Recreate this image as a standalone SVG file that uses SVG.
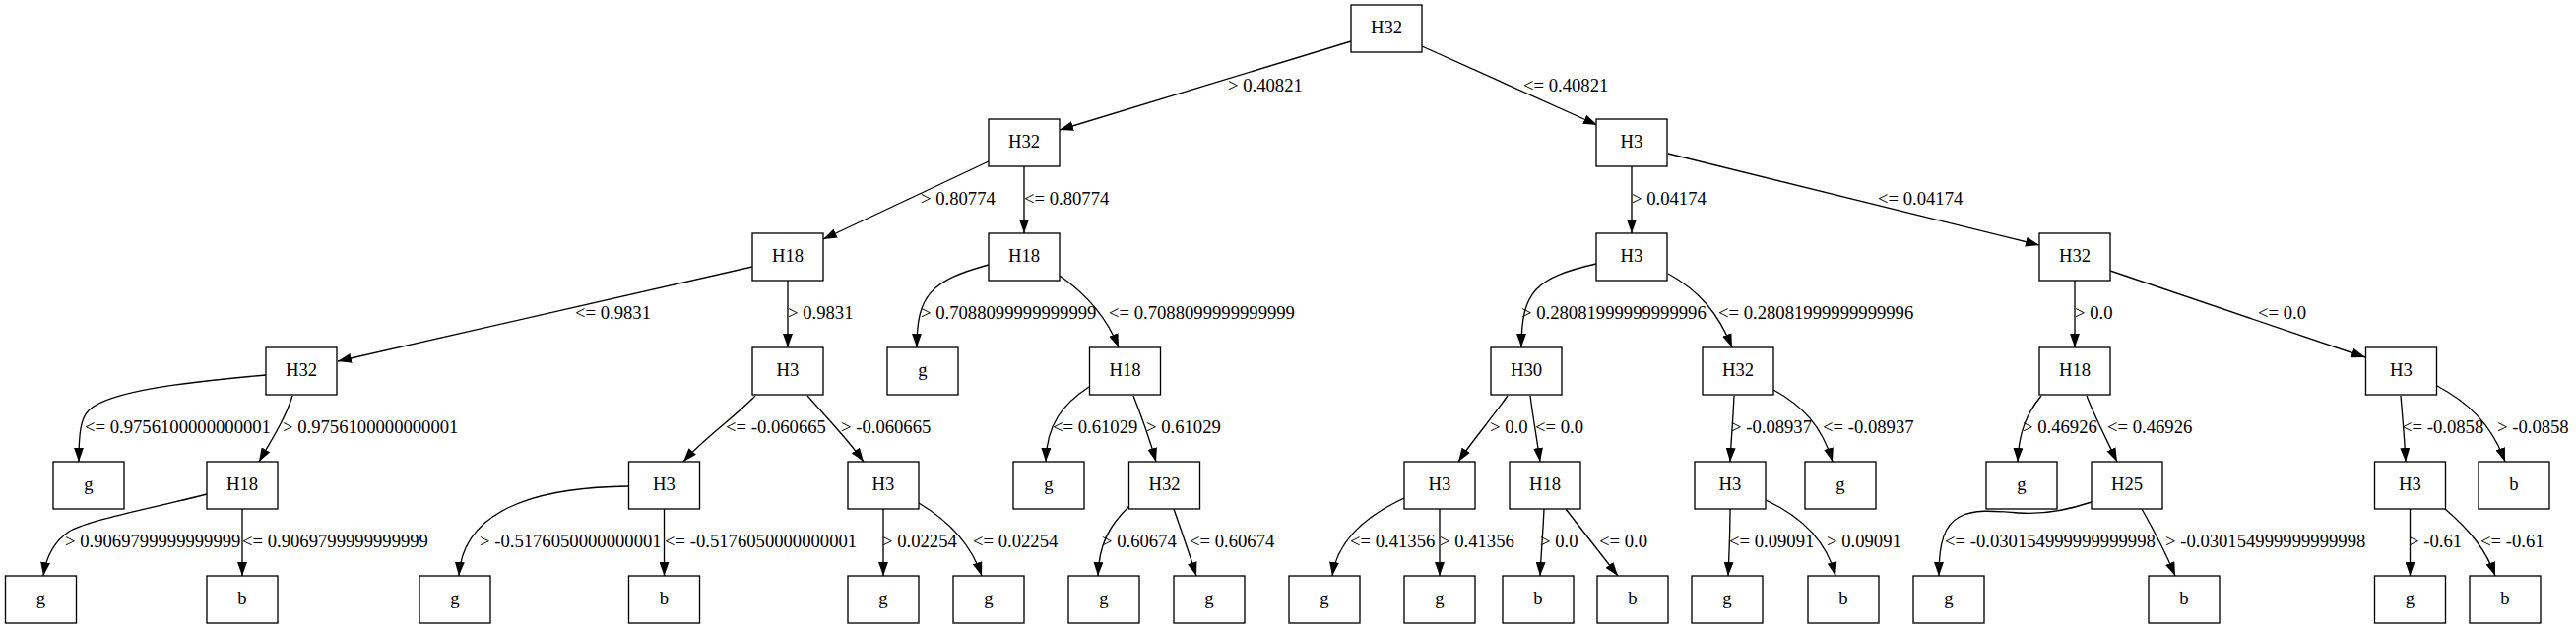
<svg xmlns="http://www.w3.org/2000/svg" width="2616" height="639" viewBox="0 0 2616 639">
<style>
.n rect{fill:#fff;stroke:#000;stroke-width:1.33}
.n text{font-family:"Liberation Serif","Times New Roman",serif;font-size:18.67px;text-anchor:middle;fill:#000}
.e path{fill:none;stroke:#000;stroke-width:1.33;marker-end:url(#ah)}
.l text{font-family:"Liberation Serif","Times New Roman",serif;font-size:18.67px;fill:#000}
</style>
<defs>
<marker id="ah" markerUnits="userSpaceOnUse" markerWidth="14" markerHeight="10" viewBox="0 0 13.3 9.4" refX="13.3" refY="4.7" orient="auto">
<path d="M0,0 L13.3,4.7 L0,9.4 z" fill="#000"/>
</marker>
</defs>
<rect width="2616" height="639" fill="#fff"/>
<g id="edges" class="e">
<path d="M1372,42 L1076,132"/>
<path d="M1444,47 L1622,127"/>
<path d="M1004,164 L836,243"/>
<path d="M1040,169 L1040,237"/>
<path d="M1657,169 L1657,237"/>
<path d="M1694,156 L2071,249"/>
<path d="M764,271 L343,367"/>
<path d="M800,285 L800,353"/>
<path d="M1004,269 C945,285 931,300 931,353"/>
<path d="M1076,280 C1105,300 1125,325 1136,353"/>
<path d="M1621,268 C1560,282 1545,295 1545,353"/>
<path d="M1694,278 C1725,295 1745,318 1759,353"/>
<path d="M2107,285 L2107,353"/>
<path d="M2143,275 L2402,363"/>
<path d="M270,381 C190,388 110,397 90,417 C82,425 80,440 80,469"/>
<path d="M297,402 C290,425 275,448 263,469"/>
<path d="M767,402 C745,425 715,445 694,469"/>
<path d="M820,402 C840,425 860,445 877,469"/>
<path d="M1106,393 C1080,410 1063,430 1062,469"/>
<path d="M1151,402 C1160,425 1168,448 1174,469"/>
<path d="M1531,402 C1515,425 1495,448 1481,469"/>
<path d="M1554,402 C1557,425 1561,448 1564,469"/>
<path d="M1761,402 C1760,425 1758,448 1757,469"/>
<path d="M1801,396 C1830,412 1850,432 1861,469"/>
<path d="M2073,402 C2058,420 2050,440 2049,469"/>
<path d="M2119,402 C2128,425 2140,448 2150,469"/>
<path d="M2438,402 C2440,425 2442,448 2443,469"/>
<path d="M2475,392 C2505,408 2530,430 2544,469"/>
<path d="M210,502 C160,515 90,528 70,540 C55,550 47,565 44,585"/>
<path d="M246,517 L246,585"/>
<path d="M638,494 C540,495 470,520 466,585"/>
<path d="M674.5,517 L674.5,585"/>
<path d="M897,517 L897,585"/>
<path d="M933,511 C965,530 987,555 997,585"/>
<path d="M1147,514 C1125,535 1116,555 1115,585"/>
<path d="M1192,517 C1200,540 1208,563 1215,585"/>
<path d="M1426,506 C1385,525 1358,550 1353,585"/>
<path d="M1462,517 L1462,585"/>
<path d="M1568,517 C1567,540 1565,563 1564,585"/>
<path d="M1590,517 C1608,540 1626,563 1643,585"/>
<path d="M1757,517 C1757,540 1756,563 1755,585"/>
<path d="M1793,508 C1830,525 1855,550 1864,585"/>
<path d="M2124,510 C2100,518 2075,523 2050,521 C2025,519 2005,517 1990,525 C1975,533 1969,550 1969,585"/>
<path d="M2175,517 C2188,540 2200,563 2209,585"/>
<path d="M2447.5,517 L2447.5,585"/>
<path d="M2483,517 C2510,540 2525,560 2534,585"/>
</g>
<g id="edge-labels" class="l">
<text x="1247" y="93">&gt; 0.40821</text>
<text x="1547" y="93">&lt;= 0.40821</text>
<text x="935" y="208">&gt; 0.80774</text>
<text x="1040" y="208">&lt;= 0.80774</text>
<text x="1657" y="208">&gt; 0.04174</text>
<text x="1907" y="208">&lt;= 0.04174</text>
<text x="584" y="324">&lt;= 0.9831</text>
<text x="800" y="324">&gt; 0.9831</text>
<text x="935" y="324">&gt; 0.7088099999999999</text>
<text x="1126" y="324">&lt;= 0.7088099999999999</text>
<text x="1545" y="324">&gt; 0.28081999999999996</text>
<text x="1745" y="324">&lt;= 0.28081999999999996</text>
<text x="2107" y="324">&gt; 0.0</text>
<text x="2293" y="324">&lt;= 0.0</text>
<text x="86" y="440">&lt;= 0.9756100000000001</text>
<text x="287" y="440">&gt; 0.9756100000000001</text>
<text x="737" y="440">&lt;= -0.060665</text>
<text x="854" y="440">&gt; -0.060665</text>
<text x="1069" y="440">&lt;= 0.61029</text>
<text x="1164" y="440">&gt; 0.61029</text>
<text x="1513" y="440">&gt; 0.0</text>
<text x="1559" y="440">&lt;= 0.0</text>
<text x="1758" y="440">&gt; -0.08937</text>
<text x="1851" y="440">&lt;= -0.08937</text>
<text x="2054" y="440">&gt; 0.46926</text>
<text x="2140" y="440">&lt;= 0.46926</text>
<text x="2439" y="440">&lt;= -0.0858</text>
<text x="2536" y="440">&gt; -0.0858</text>
<text x="66" y="556">&gt; 0.9069799999999999</text>
<text x="246" y="556">&lt;= 0.9069799999999999</text>
<text x="487" y="556">&gt; -0.5176050000000001</text>
<text x="675" y="556">&lt;= -0.5176050000000001</text>
<text x="896" y="556">&gt; 0.02254</text>
<text x="988" y="556">&lt;= 0.02254</text>
<text x="1119" y="556">&gt; 0.60674</text>
<text x="1208" y="556">&lt;= 0.60674</text>
<text x="1371" y="556">&lt;= 0.41356</text>
<text x="1462" y="556">&gt; 0.41356</text>
<text x="1564" y="556">&gt; 0.0</text>
<text x="1624" y="556">&lt;= 0.0</text>
<text x="1756" y="556">&lt;= 0.09091</text>
<text x="1855" y="556">&gt; 0.09091</text>
<text x="1975" y="556">&lt;= -0.030154999999999998</text>
<text x="2199" y="556">&gt; -0.030154999999999998</text>
<text x="2446" y="556">&gt; -0.61</text>
<text x="2519" y="556">&lt;= -0.61</text>
</g>
<g id="n0" class="n"><rect x="1372" y="5" width="72" height="48"/><text x="1408" y="34">H32</text></g>
<g id="n1" class="n"><rect x="1004" y="121" width="72" height="48"/><text x="1040" y="150">H32</text></g>
<g id="n2" class="n"><rect x="1621" y="121" width="72" height="48"/><text x="1657" y="150">H3</text></g>
<g id="n3" class="n"><rect x="764" y="237" width="72" height="48"/><text x="800" y="266">H18</text></g>
<g id="n4" class="n"><rect x="1004" y="237" width="72" height="48"/><text x="1040" y="266">H18</text></g>
<g id="n5" class="n"><rect x="1621" y="237" width="72" height="48"/><text x="1657" y="266">H3</text></g>
<g id="n6" class="n"><rect x="2071" y="237" width="72" height="48"/><text x="2107" y="266">H32</text></g>
<g id="n7" class="n"><rect x="270" y="353" width="72" height="48"/><text x="306" y="382">H32</text></g>
<g id="n8" class="n"><rect x="764" y="353" width="72" height="48"/><text x="800" y="382">H3</text></g>
<g id="n9" class="n"><rect x="901" y="353" width="72" height="48"/><text x="937" y="382">g</text></g>
<g id="n10" class="n"><rect x="1106.5" y="353" width="72" height="48"/><text x="1142.5" y="382">H18</text></g>
<g id="n11" class="n"><rect x="1514" y="353" width="72" height="48"/><text x="1550" y="382">H30</text></g>
<g id="n12" class="n"><rect x="1729" y="353" width="72" height="48"/><text x="1765" y="382">H32</text></g>
<g id="n13" class="n"><rect x="2071" y="353" width="72" height="48"/><text x="2107" y="382">H18</text></g>
<g id="n14" class="n"><rect x="2402.5" y="353" width="72" height="48"/><text x="2438.5" y="382">H3</text></g>
<g id="n15" class="n"><rect x="54" y="469" width="72" height="48"/><text x="90" y="498">g</text></g>
<g id="n16" class="n"><rect x="210" y="469" width="72" height="48"/><text x="246" y="498">H18</text></g>
<g id="n17" class="n"><rect x="638.5" y="469" width="72" height="48"/><text x="674.5" y="498">H3</text></g>
<g id="n18" class="n"><rect x="861" y="469" width="72" height="48"/><text x="897" y="498">H3</text></g>
<g id="n19" class="n"><rect x="1029" y="469" width="72" height="48"/><text x="1065" y="498">g</text></g>
<g id="n20" class="n"><rect x="1146.5" y="469" width="72" height="48"/><text x="1182.5" y="498">H32</text></g>
<g id="n21" class="n"><rect x="1426" y="469" width="72" height="48"/><text x="1462" y="498">H3</text></g>
<g id="n22" class="n"><rect x="1533" y="469" width="72" height="48"/><text x="1569" y="498">H18</text></g>
<g id="n23" class="n"><rect x="1721" y="469" width="72" height="48"/><text x="1757" y="498">H3</text></g>
<g id="n24" class="n"><rect x="1833" y="469" width="72" height="48"/><text x="1869" y="498">g</text></g>
<g id="n25" class="n"><rect x="2017" y="469" width="72" height="48"/><text x="2053" y="498">g</text></g>
<g id="n26" class="n"><rect x="2124" y="469" width="72" height="48"/><text x="2160" y="498">H25</text></g>
<g id="n27" class="n"><rect x="2411.5" y="469" width="72" height="48"/><text x="2447.5" y="498">H3</text></g>
<g id="n28" class="n"><rect x="2517" y="469" width="72" height="48"/><text x="2553" y="498">b</text></g>
<g id="n29" class="n"><rect x="5.5" y="585" width="72" height="48"/><text x="41.5" y="614">g</text></g>
<g id="n30" class="n"><rect x="210" y="585" width="72" height="48"/><text x="246" y="614">b</text></g>
<g id="n31" class="n"><rect x="426" y="585" width="72" height="48"/><text x="462" y="614">g</text></g>
<g id="n32" class="n"><rect x="638.5" y="585" width="72" height="48"/><text x="674.5" y="614">b</text></g>
<g id="n33" class="n"><rect x="861" y="585" width="72" height="48"/><text x="897" y="614">g</text></g>
<g id="n34" class="n"><rect x="968" y="585" width="72" height="48"/><text x="1004" y="614">g</text></g>
<g id="n35" class="n"><rect x="1085" y="585" width="72" height="48"/><text x="1121" y="614">g</text></g>
<g id="n36" class="n"><rect x="1192" y="585" width="72" height="48"/><text x="1228" y="614">g</text></g>
<g id="n37" class="n"><rect x="1309" y="585" width="72" height="48"/><text x="1345" y="614">g</text></g>
<g id="n38" class="n"><rect x="1426" y="585" width="72" height="48"/><text x="1462" y="614">g</text></g>
<g id="n39" class="n"><rect x="1526" y="585" width="72" height="48"/><text x="1562" y="614">b</text></g>
<g id="n40" class="n"><rect x="1622" y="585" width="72" height="48"/><text x="1658" y="614">b</text></g>
<g id="n41" class="n"><rect x="1718" y="585" width="72" height="48"/><text x="1754" y="614">g</text></g>
<g id="n42" class="n"><rect x="1836" y="585" width="72" height="48"/><text x="1872" y="614">b</text></g>
<g id="n43" class="n"><rect x="1943" y="585" width="72" height="48"/><text x="1979" y="614">g</text></g>
<g id="n44" class="n"><rect x="2182" y="585" width="72" height="48"/><text x="2218" y="614">b</text></g>
<g id="n45" class="n"><rect x="2411.5" y="585" width="72" height="48"/><text x="2447.5" y="614">g</text></g>
<g id="n46" class="n"><rect x="2508" y="585" width="72" height="48"/><text x="2544" y="614">b</text></g>
</svg>
